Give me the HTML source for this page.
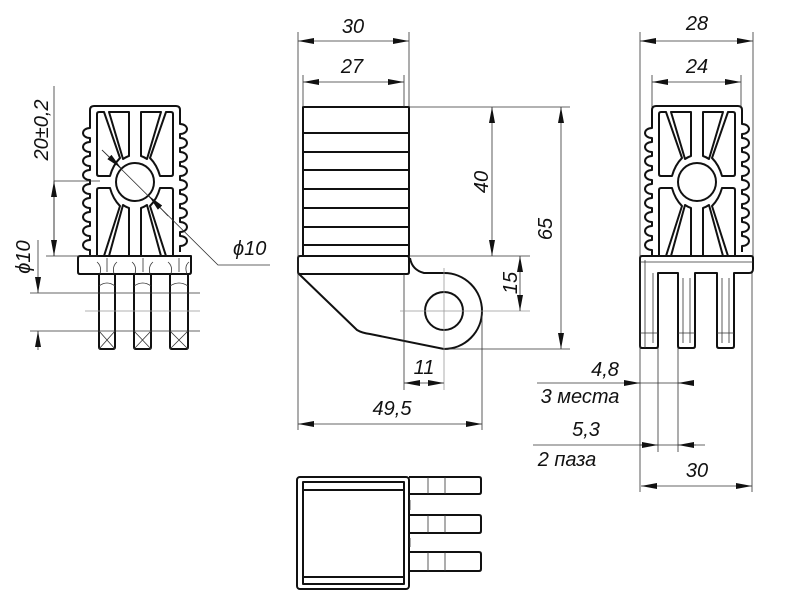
<!DOCTYPE html>
<html><head><meta charset="utf-8"><style>
html,body{margin:0;padding:0;background:#fff;}
svg{display:block;}
text{font-family:"Liberation Sans",sans-serif;font-style:italic;font-size:20px;fill:#111;}
.k{stroke:#111;stroke-width:2;fill:none;stroke-linejoin:round;}
.t{stroke:#333;stroke-width:0.8;fill:none;}
.g{stroke:#999;stroke-width:0.8;fill:none;}
</style></head><body>
<svg width="800" height="600" viewBox="0 0 800 600" xmlns="http://www.w3.org/2000/svg">
<defs>
<marker id="a" viewBox="0 0 16 6" refX="16" refY="3" markerWidth="16" markerHeight="6" orient="auto-start-reverse" markerUnits="userSpaceOnUse">
<path d="M0,0 L16,3 L0,6 Z" fill="#111"/></marker>
<g id="body">
<path class="k" d="M-41,-76 L41,-76 Q45,-76 45,-72 L45,-58
 a7,5 0 0 1 0,10 l0,4 a7,5 0 0 1 0,10 l0,4 a7,5 0 0 1 0,10 l0,4 a7,5 0 0 1 0,10 l0,4 a7,5 0 0 1 0,10 l0,4 a7,5 0 0 1 0,10 l0,4 a7,5 0 0 1 0,10 l0,4 a7,5 0 0 1 0,10 l0,4 a7,5 0 0 1 0,10 l0,6
 M-45,74 L-45,68 a7,5 0 0 1 0,-10 l0,-4 a7,5 0 0 1 0,-10 l0,-4 a7,5 0 0 1 0,-10 l0,-4 a7,5 0 0 1 0,-10 l0,-4 a7,5 0 0 1 0,-10 l0,-4 a7,5 0 0 1 0,-10 l0,-4 a7,5 0 0 1 0,-10 l0,-4 a7,5 0 0 1 0,-10 l0,-4 a7,5 0 0 1 0,-10 L-45,-72 Q-45,-76 -41,-76"/>
<circle class="k" cx="0" cy="0" r="19"/>
<path class="k" d="M-38,-68 Q-38,-70 -36,-70 L-31,-70 L-15,-24 Q-22,-17 -25,-6 L-36,-6 Q-38,-6 -38,-8 Z"/>
<path class="k" d="M-26,-70 L-6,-70 L-6,-26 Q-9,-25 -12,-23 Z"/>
<path class="k" d="M26,-70 L6,-70 L6,-26 Q9,-25 12,-23 Z"/>
<path class="k" d="M38,-68 Q38,-70 36,-70 L31,-70 L15,-24 Q22,-17 25,-6 L36,-6 Q38,-6 38,-8 Z"/>
<path class="k" d="M-38,74 L-38,8 Q-38,6 -36,6 L-25,6 Q-22,17 -15,24 L-31,74 M-26,74 L-12,23 Q-9,25 -6,26 L-6,74 M6,74 L6,26 Q9,25 12,23 L26,74 M31,74 L15,24 Q22,17 25,6 L36,6 Q38,6 38,8 L38,74"/>
</g>
</defs>

<!-- LEFT VIEW -->
<use href="#body" x="135" y="182"/>
<path class="k" d="M80,256 L191,256 L191,272 Q191,274 189,274 L80,274 Q78,274 78,272 L78,258 Q78,256 80,256 Z"/>
<path class="k" d="M99,274 L99,347 Q99,349 101,349 L113,349 Q115,349 115,347 L115,274 M134,274 L134,347 Q134,349 136,349 L149,349 Q151,349 151,347 L151,274 M170,274 L170,347 Q170,349 172,349 L186,349 Q188,349 188,347 L188,274"/>
<path class="t" d="M97,262 Q102,266 100,274 M117,262 Q112,266 114,274 M132,262 Q137,266 135,274 M153,262 Q148,266 150,274 M168,262 Q173,266 171,274 M189,262 Q184,266 187,274 M107,258 L107,272 M143,258 L143,272 M179,258 L179,272"/>
<path class="t" d="M99,286 Q107,280 115,286 M134,286 Q143,280 151,286 M170,286 Q179,280 188,286 M99,331 L115,349 M115,331 L99,349 M134,331 L151,349 M151,331 L134,349 M170,331 L188,349 M188,331 L170,349"/>
<path class="t" d="M30,293 L200,293 M30,331 L200,331 M54,86 L54,256 M46,256 L98,256 M54,181 L100,181"/>
<path class="g" d="M85,311 L200,311"/>
<path class="t" d="M54,181 L54,256" marker-start="url(#a)" marker-end="url(#a)"/>
<path class="t" d="M38,240 L38,293" marker-end="url(#a)"/>
<path class="t" d="M38,350 L38,331" marker-end="url(#a)"/>
<path class="t" d="M102,150 L218,265 L270,265"/>
<path class="t" d="M102,150 L121,168" marker-end="url(#a)"/>
<path class="t" d="M168,216 L149,196" marker-end="url(#a)"/>
<text x="233" y="255">ϕ10</text>
<text transform="translate(48,130) rotate(-90)" text-anchor="middle">20±0,2</text>
<text transform="translate(30,257) rotate(-90)" text-anchor="middle">ϕ10</text>

<!-- MIDDLE VIEW -->
<rect class="k" x="303" y="107" width="106" height="149"/>
<path class="k" d="M303,133 L409,133 M303,152 L409,152 M303,170 L409,170 M303,189 L409,189 M303,208 L409,208 M303,227 L409,227 M303,245 L409,245"/>
<path class="k" d="M300,256 L407,256 Q409,256 409,258 L409,272 Q409,274 407,274 L300,274 Q298,274 298,272 L298,258 Q298,256 300,256 Z"/>
<path class="k" d="M299,274 L357,330 Q362,333 370,334 L444,349 A38,38 0 0 0 444,273 L424,273 Q412,270 410,258"/>
<circle class="k" cx="444" cy="311" r="19"/>
<path class="t" d="M298,32 L298,430 M409,32 L409,107 M303,75 L303,107 M404,75 L404,107 M409,107 L570,107 M409,256 L530,256 M444,349 L570,349 M404,274 L404,390 M482,311 L482,430"/>
<path class="g" d="M400,311 L530,311 M444,268 L444,390"/>
<path class="t" d="M298,41 L409,41" marker-start="url(#a)" marker-end="url(#a)"/>
<path class="t" d="M303,82 L404,82" marker-start="url(#a)" marker-end="url(#a)"/>
<path class="t" d="M492,107 L492,256" marker-start="url(#a)" marker-end="url(#a)"/>
<path class="t" d="M561,107 L561,349" marker-start="url(#a)" marker-end="url(#a)"/>
<path class="t" d="M520,256 L520,311" marker-start="url(#a)" marker-end="url(#a)"/>
<path class="t" d="M404,383 L444,383" marker-start="url(#a)" marker-end="url(#a)"/>
<path class="t" d="M298,424 L482,424" marker-start="url(#a)" marker-end="url(#a)"/>
<text x="353" y="33" text-anchor="middle">30</text>
<text x="352" y="73" text-anchor="middle">27</text>
<text transform="translate(488,182) rotate(-90)" text-anchor="middle">40</text>
<text transform="translate(552,229) rotate(-90)" text-anchor="middle">65</text>
<text transform="translate(517,283) rotate(-90)" text-anchor="middle">15</text>
<text x="424" y="374" text-anchor="middle">11</text>
<text x="392" y="415" text-anchor="middle">49,5</text>

<!-- RIGHT VIEW -->
<use href="#body" x="697" y="182"/>
<path class="k" d="M642,256 L751,256 Q753,256 753,258 L753,269 Q753,273 749,273 L734,273 L734,346 Q734,348 732,348 L719,348 Q717,348 717,346 L717,273 L695,273 L695,346 Q695,348 693,348 L680,348 Q678,348 678,346 L678,273 L658,273 L658,346 Q658,348 656,348 L642,348 Q640,348 640,346 L640,258 Q640,256 642,256 Z"/>
<path class="t" d="M645,260 L645,348 M653,273 L653,343 M683,278 L683,343 M690,278 L690,343 M722,278 L722,343 M729,278 L729,343 M640,262 L753,262 M640,333 L658,333 M678,333 L695,333 M717,333 L734,333"/>
<path class="t" d="M640,32 L640,492 M753,32 L753,256 M752,273 L752,492 M652,75 L652,107 M741,75 L741,107 M658,348 L658,452 M678,348 L678,452"/>
<path class="t" d="M640,41 L753,41" marker-start="url(#a)" marker-end="url(#a)"/>
<path class="t" d="M652,82 L741,82" marker-start="url(#a)" marker-end="url(#a)"/>
<path class="t" d="M641,486 L752,486" marker-start="url(#a)" marker-end="url(#a)"/>
<path class="t" d="M537,383 L685,383"/>
<path class="t" d="M624,383 L640,383" marker-end="url(#a)"/>
<path class="t" d="M694,383 L678,383" marker-end="url(#a)"/>
<path class="t" d="M533,445 L705,445"/>
<path class="t" d="M640,445 L658,445" marker-end="url(#a)"/>
<path class="t" d="M696,445 L678,445" marker-end="url(#a)"/>
<text x="697" y="30" text-anchor="middle">28</text>
<text x="697" y="73" text-anchor="middle">24</text>
<text x="697" y="477" text-anchor="middle">30</text>
<text x="605" y="376" text-anchor="middle">4,8</text>
<text x="580" y="403" text-anchor="middle">3 места</text>
<text x="586" y="436" text-anchor="middle">5,3</text>
<text x="567" y="466" text-anchor="middle">2 паза</text>

<!-- BOTTOM VIEW -->
<rect class="k" x="297" y="477" width="112" height="112" rx="3"/>
<rect class="k" x="303" y="482" width="101" height="102"/>
<path class="k" d="M303,490 L404,490 M303,577 L404,577"/>
<path class="k" d="M409,477 L479,477 Q481,477 481,479 L481,492 Q481,494 479,494 L410,494 M410,515 L479,515 Q481,515 481,517 L481,531 Q481,533 479,533 L410,533 M410,552 L479,552 Q481,552 481,554 L481,569 Q481,571 479,571 L410,571"/>
<path class="t" d="M428,477 L428,494 M445,477 L445,494 M428,515 L428,533 M445,515 L445,533 M428,552 L428,571 M445,552 L445,571 M410,500 L410,510 M410,538 L410,547"/>
</svg>
</body></html>
